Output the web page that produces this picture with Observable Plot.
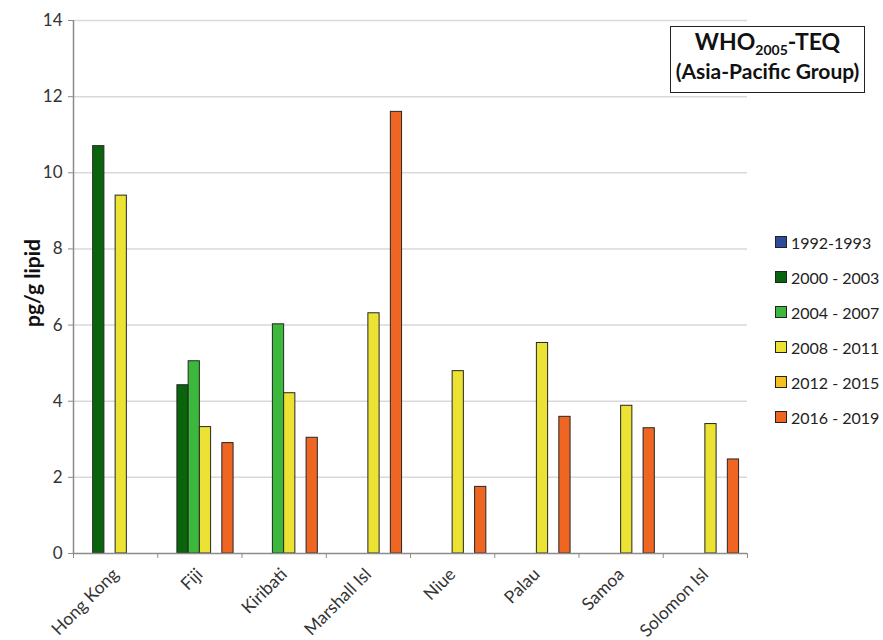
<!DOCTYPE html>
<html>
<head>
<meta charset="utf-8">
<script src="https://cdn.jsdelivr.net/npm/d3@7"></script>
<script src="https://cdn.jsdelivr.net/npm/@observablehq/plot@0.6"></script>
<style>
  html, body { margin: 0; padding: 0; background: #fff; }
  #wrap { position: relative; width: 883px; height: 640px; font-family: Lato, "Open Sans", sans-serif; }
  #titlebox { position: absolute; left: 670px; top: 26px; width: 195px; height: 67px; border: 1.5px solid #222;
    text-align: center; color: #111; font-weight: bold; box-sizing: border-box; padding-top: 0px; }
  #titlebox .t1 { font-size: 23px; line-height: 29px; }
  #titlebox .t1 sub { font-size: 14px; vertical-align: -5px; line-height: 0; }
  #titlebox .t2 { font-size: 21px; line-height: 29px; white-space: nowrap; }
  #legend { position: absolute; left: 775px; top: 0; }
  .lg { position: absolute; left: 0; white-space: nowrap; font-size: 16px; color: #222; display: flex; align-items: center; height: 20px; }
  .sw { width: 10px; height: 10px; border: 1px solid #222; margin-right: 4px; }
</style>
</head>
<body>
<div id="wrap"></div>
<script>
const categories = ["Hong Kong", "Fiji", "Kiribati", "Marshall Isl", "Niue", "Palau", "Samoa", "Solomon Isl"];
const periods = ["1992-1993", "2000 - 2003", "2004 - 2007", "2008 - 2011", "2012 - 2015", "2016 - 2019"];
const periodColors = ["#2e4a9c", "#0a640c", "#3cb83c", "#ebe233", "#f6c01c", "#ee6622"];

const v1992_1993 = [null, null, null, null, null, null, null, null];
const v2000_2003 = [10.7, 4.42, null, null, null, null, null, null];
const v2004_2007 = [null, 5.05, 6.02, null, null, null, null, null];
const v2008_2011 = [9.4, 3.32, 4.21, 6.31, 4.79, 5.53, 3.88, 3.40];
const v2012_2015 = [null, null, null, null, null, null, null, null];
const v2016_2019 = [null, 2.90, 3.04, 11.6, 1.75, 3.59, 3.29, 2.47];

const yTicks = [0, 2, 4, 6, 8, 10, 12, 14];

const seriesValues = [v1992_1993, v2000_2003, v2004_2007, v2008_2011, v2012_2015, v2016_2019];
const nSlots = periods.length + 1.5; // 6 bars plus outer padding
const rows = [];
seriesValues.forEach((vals, s) => {
  vals.forEach((v, i) => {
    if (v == null) return;
    const x1 = i + (0.75 + s) / nSlots;
    rows.push({category: categories[i], period: periods[s], value: v, x1, x2: x1 + 1 / nSlots, color: periodColors[s]});
  });
});

const chart = Plot.plot({
  width: 883,
  height: 640,
  marginLeft: 73,
  marginRight: 136,
  marginTop: 20,
  marginBottom: 87,
  style: {fontFamily: "Lato, 'Open Sans', sans-serif", background: "#fff", fontSize: "17px"},
  x: {domain: [0, categories.length]},
  y: {domain: [0, 14]},
  marks: [
    Plot.gridY(yTicks.filter(d => d > 0), {stroke: "#d9d9d9", strokeOpacity: 1, strokeWidth: 1.5}),
    Plot.rectY(rows, {x1: "x1", x2: "x2", y1: 0, y2: "value", fill: "color", stroke: "#262626", strokeWidth: 1}),
    Plot.ruleX([0], {stroke: "#8c8c8c", strokeWidth: 1.5}),
    Plot.ruleY([0], {stroke: "#8c8c8c", strokeWidth: 1.5}),
    Plot.axisY({ticks: yTicks, tickSize: 5, tickPadding: 6, fontSize: 17, fill: "#333", stroke: "#8c8c8c", label: null}),
    Plot.axisX({ticks: d3.range(categories.length + 1), tickSize: 5, tickFormat: () => "", stroke: "#8c8c8c", label: null}),
    Plot.axisX({ticks: categories.map((c, i) => i + 0.5), tickSize: 0, tickPadding: 18, tickRotate: -45,
      tickFormat: d => categories[Math.floor(d)], fontSize: 17.5, fill: "#333", dx: 0, label: null}),
    Plot.text(["pg/g lipid"], {frameAnchor: "left", textAnchor: "middle", rotate: -90, dx: -40, dy: -4, fontWeight: "bold", fontSize: 21, fill: "#111"})
  ]
});

const wrap = document.getElementById("wrap");
wrap.appendChild(chart);

const tb = document.createElement("div");
tb.id = "titlebox";
tb.innerHTML = '<div class="t1">WHO<sub>2005</sub>-TEQ</div><div class="t2">(Asia-Pacific Group)</div>';
wrap.appendChild(tb);

const lg = document.createElement("div");
lg.id = "legend";
periods.forEach((p, s) => {
  const row = document.createElement("div");
  row.className = "lg";
  row.style.top = (232 + s * 35) + "px";
  row.innerHTML = `<span class="sw" style="background:${periodColors[s]}"></span><span>${p}</span>`;
  lg.appendChild(row);
});
wrap.appendChild(lg);
</script>
</body>
</html>
